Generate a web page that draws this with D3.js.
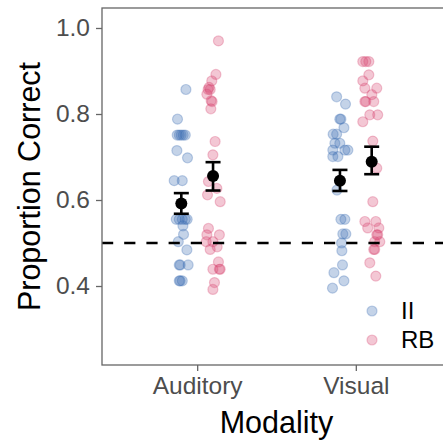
<!DOCTYPE html>
<html>
<head>
<meta charset="utf-8">
<script src="https://cdn.jsdelivr.net/npm/d3@7"></script>
<style>
  body { margin: 0; background: #fff; }
  text { font-family: "Liberation Sans", Arial, sans-serif; }
</style>
</head>
<body>
<div id="chart"></div>
<script>
// categories and groups
const modalities = ["Auditory", "Visual"];
const groups = ["II", "RB"];
const yTicks = [0.4, 0.6, 0.8, 1.0];
const chance = 0.5;

// per-subject proportion correct, with the horizontal jitter (x units)
const audII    = [0.857, 0.788, 0.751, 0.751, 0.751, 0.751, 0.751, 0.715, 0.698, 0.645, 0.645,
                  0.555, 0.555, 0.555, 0.555, 0.555, 0.540, 0.520, 0.503, 0.484, 0.449, 0.449, 0.449,
                  0.412, 0.412, 0.412];
const audIIJit = [0.029, -0.024, -0.026, -0.013, -0.001, 0.012, 0.025, -0.028, 0.039, -0.045, 0.006,
                  -0.032, -0.013, 0.006, 0.025, 0.037, 0.010, 0.014, -0.019, 0.035, -0.013, -0.007, 0.043,
                  -0.013, -0.007, 0.006];

const audRB    = [0.970, 0.892, 0.877, 0.862, 0.857, 0.857, 0.846, 0.831, 0.829, 0.812, 0.736, 0.705,
                  0.643, 0.627, 0.612, 0.596, 0.534, 0.519, 0.519, 0.503, 0.503, 0.491, 0.485, 0.456,
                  0.439, 0.439, 0.439, 0.408, 0.392];
const audRBJit = [0.034, 0.018, -0.008, -0.025, -0.018, -0.031, -0.039, -0.012, -0.006, -0.014, 0.013, -0.001,
                  -0.029, 0.024, -0.035, 0.045, -0.029, -0.039, 0.040, -0.043, -0.001, 0.026, -0.018, 0.034,
                  -0.001, 0.040, 0.045, 0.009, -0.001];

const visII    = [0.840, 0.823, 0.788, 0.788, 0.768, 0.753, 0.753, 0.732, 0.732, 0.716, 0.716, 0.716,
                  0.701, 0.701, 0.623, 0.555, 0.555, 0.521, 0.521, 0.500, 0.482, 0.449, 0.431, 0.412, 0.395];
const visIIJit = [-0.021, 0.035, -0.001, 0.006, 0.025, -0.043, -0.021, -0.032, -0.001, -0.045, 0.031, 0.050,
                  -0.045, -0.013, -0.019, 0.006, 0.031, 0.018, 0.037, 0.010, 0.012, 0.016, -0.038, 0.025, -0.047];

const visRB    = [0.922, 0.922, 0.922, 0.891, 0.877, 0.860, 0.860, 0.845, 0.829, 0.829, 0.829, 0.798, 0.798,
                  0.782, 0.737, 0.674, 0.596, 0.550, 0.550, 0.535, 0.535, 0.519, 0.519, 0.503, 0.503,
                  0.485, 0.485, 0.454, 0.423];
const visRBJit = [-0.056, -0.037, -0.018, -0.018, -0.056, -0.043, 0.032, 0.001, -0.043, -0.037, 0.013, -0.012, 0.038,
                  -0.056, 0.007, 0.032, 0.007, -0.043, 0.026, -0.025, 0.045, 0.032, 0.038, 0.019, 0.051,
                  0.013, 0.019, -0.012, 0.026];

// group means and error bar ends (Auditory, Visual)
const meanII = [0.592, 0.645];
const lowII  = [0.568, 0.621];
const highII = [0.616, 0.670];
const meanRB = [0.656, 0.689];
const lowRB  = [0.622, 0.660];
const highRB = [0.688, 0.724];

const colors = {"II": "#3c6eb4", "RB": "#d6476f"};
const dodge = {"II": -0.1, "RB": 0.1};

const W = 443, H = 440;
const panel = {left: 102, right: 451, top: 8, bottom: 365};

const svg = d3.select("#chart").append("svg")
    .attr("width", W).attr("height", H);

const xScale = d3.scaleLinear().domain([0.4, 2.6]).range([panel.left, panel.right]);
const yScale = d3.scaleLinear().domain([0.2163, 1.0465]).range([panel.bottom, panel.top]);

// build point table
let points = [];
const sets = [
    {m: 0, g: "II", v: audII, j: audIIJit},
    {m: 0, g: "RB", v: audRB, j: audRBJit},
    {m: 1, g: "II", v: visII, j: visIIJit},
    {m: 1, g: "RB", v: visRB, j: visRBJit}
];
sets.forEach(function(s) {
    s.v.forEach(function(val, i) {
        points.push({x: s.m + 1 + dodge[s.g] + s.j[i], y: val, g: s.g});
    });
});

let summary = [];
modalities.forEach(function(m, i) {
    summary.push({x: i + 1 + dodge.II, mean: meanII[i], lo: lowII[i], hi: highII[i]});
    summary.push({x: i + 1 + dodge.RB, mean: meanRB[i], lo: lowRB[i], hi: highRB[i]});
});

// jittered points
svg.append("g").selectAll("circle").data(points).enter().append("circle")
    .attr("cx", function(d) { return xScale(d.x); })
    .attr("cy", function(d) { return yScale(d.y); })
    .attr("r", 5)
    .style("fill", function(d) { return colors[d.g]; })
    .style("fill-opacity", 0.3)
    .style("stroke", function(d) { return colors[d.g]; })
    .style("stroke-opacity", 0.3)
    .style("stroke-width", 1.2);

// chance line
svg.append("line")
    .attr("x1", panel.left).attr("x2", panel.right)
    .attr("y1", yScale(chance)).attr("y2", yScale(chance))
    .style("stroke", "#000").style("stroke-width", 2.6)
    .style("stroke-dasharray", "11.2,11");

// error bars
let eb = svg.append("g").selectAll("g").data(summary).enter().append("g");
eb.append("line")
    .attr("x1", function(d) { return xScale(d.x); })
    .attr("x2", function(d) { return xScale(d.x); })
    .attr("y1", function(d) { return yScale(d.lo); })
    .attr("y2", function(d) { return yScale(d.hi); });
eb.append("line")
    .attr("x1", function(d) { return xScale(d.x) - 7.5; })
    .attr("x2", function(d) { return xScale(d.x) + 7.5; })
    .attr("y1", function(d) { return yScale(d.lo); })
    .attr("y2", function(d) { return yScale(d.lo); });
eb.append("line")
    .attr("x1", function(d) { return xScale(d.x) - 7.5; })
    .attr("x2", function(d) { return xScale(d.x) + 7.5; })
    .attr("y1", function(d) { return yScale(d.hi); })
    .attr("y2", function(d) { return yScale(d.hi); });
eb.selectAll("line").style("stroke", "#000").style("stroke-width", 2.6);
eb.append("circle")
    .attr("cx", function(d) { return xScale(d.x); })
    .attr("cy", function(d) { return yScale(d.mean); })
    .attr("r", 6)
    .style("fill", "#000");

// panel border
svg.append("rect")
    .attr("x", panel.left).attr("y", panel.top)
    .attr("width", panel.right - panel.left).attr("height", panel.bottom - panel.top)
    .style("fill", "none").style("stroke", "#666").style("stroke-width", 1.3);

// axes
const yAxis = svg.append("g")
    .attr("transform", "translate(" + panel.left + ",0)")
    .call(d3.axisLeft(yScale).tickValues(yTicks).tickFormat(d3.format(".1f")).tickSize(6).tickPadding(6));
const xAxis = svg.append("g")
    .attr("transform", "translate(0," + panel.bottom + ")")
    .call(d3.axisBottom(xScale).tickValues([1, 2])
        .tickFormat(function(d) { return modalities[d - 1]; }).tickSize(6).tickPadding(6));
[xAxis, yAxis].forEach(function(ax) {
    ax.select(".domain").remove();
    ax.selectAll(".tick line").style("stroke", "#666").style("stroke-width", 1.3);
    ax.selectAll(".tick text").style("fill", "#4d4d4d").style("font-size", "24.5px")
        .style("font-family", "'Liberation Sans', Arial, sans-serif");
});

// axis titles
svg.append("text")
    .attr("x", (panel.left + panel.right) / 2).attr("y", 433)
    .style("text-anchor", "middle").style("font-size", "30.5px").style("fill", "#000")
    .text("Modality");
svg.append("text")
    .attr("transform", "translate(40," + (panel.top + panel.bottom) / 2 + ") rotate(-90)")
    .style("text-anchor", "middle").style("font-size", "30.5px").style("fill", "#000")
    .text("Proportion Correct");

// legend
let legend = svg.append("g").selectAll("g").data(groups).enter().append("g")
    .attr("transform", function(d, i) { return "translate(372," + (311 + i * 29) + ")"; });
legend.append("circle")
    .attr("r", 5)
    .style("fill", function(d) { return colors[d]; })
    .style("fill-opacity", 0.3)
    .style("stroke", function(d) { return colors[d]; })
    .style("stroke-opacity", 0.3)
    .style("stroke-width", 1.2);
legend.append("text")
    .attr("x", 29).attr("dy", "0.35em")
    .style("font-size", "24px").style("fill", "#000")
    .text(function(d) { return d; });
</script>
</body>
</html>
